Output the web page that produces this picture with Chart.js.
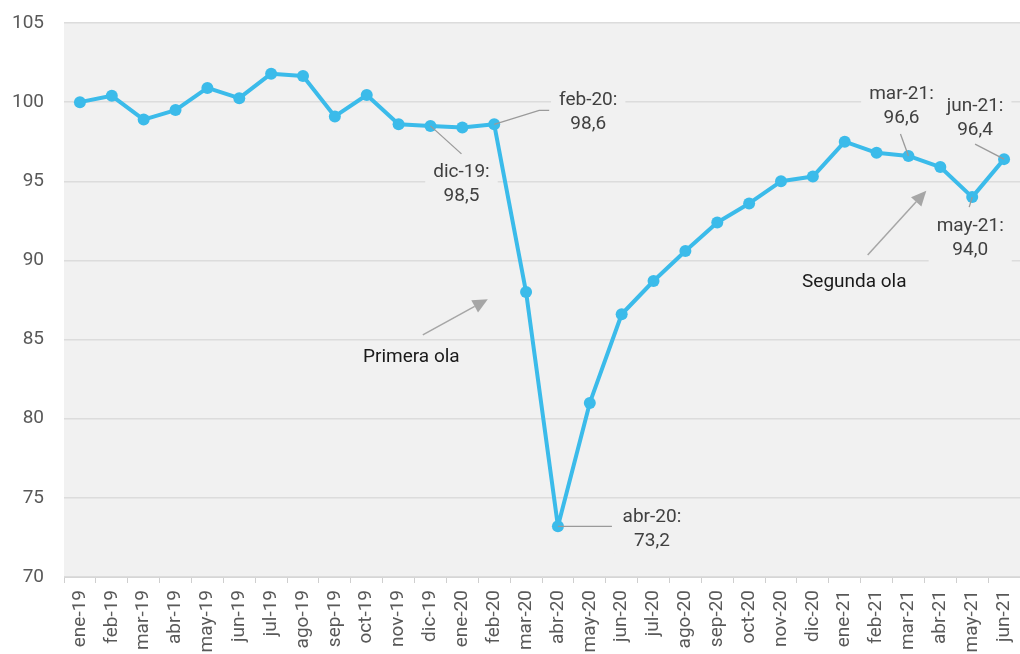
<!DOCTYPE html>
<html>
<head>
<meta charset="utf-8">
<script src="https://cdn.jsdelivr.net/npm/chart.js@4/dist/chart.umd.min.js"></script>
<style>
  body { margin: 0; background: #fff; }
  #wrap { width: 1020px; height: 654px; }
</style>
</head>
<body>
<div id="wrap"><canvas id="chart" width="1020" height="654"></canvas></div>
<script>
// Month labels
const months = ['ene-19','feb-19','mar-19','abr-19','may-19','jun-19','jul-19','ago-19','sep-19','oct-19','nov-19','dic-19',
  'ene-20','feb-20','mar-20','abr-20','may-20','jun-20','jul-20','ago-20','sep-20','oct-20','nov-20','dic-20',
  'ene-21','feb-21','mar-21','abr-21','may-21','jun-21'];

// Index values
const values = [100.0, 100.4, 98.9, 99.5, 100.9, 100.25, 101.8, 101.65, 99.1, 100.45, 98.6, 98.5,
  98.4, 98.6, 88.0, 73.2, 81.0, 86.6, 88.7, 90.6, 92.4, 93.6, 95.0, 95.3,
  97.5, 96.8, 96.6, 95.9, 94.0, 96.4];

const yTicks = [70, 75, 80, 85, 90, 95, 100, 105];

// Point callouts (which month, text lines)
const callouts = [
  { month: 'dic-19', lines: ['dic-19:', '98,5'], leader: [[0, 0], [31, 28]], text: [31, 46] },
  { month: 'feb-20', lines: ['feb-20:', '98,6'], leader: [[0, 0], [45, -14], [55, -14]], text: [94, -24] },
  { month: 'abr-20', lines: ['abr-20:', '73,2'], leader: [[0, 0], [54, 0]], text: [94, -9] },
  { month: 'mar-21', lines: ['mar-21:', '96,6'], leader: [[0, 0], [-8, -22]], text: [-7, -62] },
  { month: 'jun-21', lines: ['jun-21:', '96,4'], leader: [[0, 0], [-29, -15]], text: [-29, -53] },
  { month: 'may-21', lines: ['may-21:', '94,0'], leader: [[0, 0], [-3, 10]], text: [-2, 29] }
];

// Wave notes: arrows in data coordinates (category index, value)
const waves = [
  { text: 'Primera ola', at: [10.4, 83.9], from: [10.76, 85.3], to: [12.8, 87.55] },
  { text: 'Segunda ola', at: [24.3, 88.6], from: [24.72, 90.35], to: [26.56, 94.4] }
];

const FONT = 'Roboto, "Noto Sans", sans-serif';

const plotBg = {
  id: 'plotBg',
  beforeDraw(chart) {
    const a = chart.chartArea, ctx = chart.ctx;
    ctx.save();
    ctx.fillStyle = '#f1f1f1';
    ctx.fillRect(a.left, a.top, a.right - a.left, a.bottom - a.top);
    ctx.restore();
  }
};

function pointPos(chart, month) {
  const i = months.indexOf(month);
  return [chart.scales.x.getPixelForValue(i), chart.scales.y.getPixelForValue(values[i])];
}

const notes = {
  id: 'notes',
  beforeDatasetsDraw(chart) {
    // boxes that hide the gridlines behind the callout text
    const ctx = chart.ctx;
    ctx.save();
    ctx.font = '19px ' + FONT;
    ctx.fillStyle = '#f1f1f1';
    callouts.forEach(c => {
      const [px, py] = pointPos(chart, c.month);
      const cx = px + c.text[0], cy = py + c.text[1];
      const w = Math.max(...c.lines.map(l => ctx.measureText(l).width)) + 16;
      ctx.fillRect(cx - w / 2, cy - 14, w, 50);
    });
    ctx.restore();
  },
  afterDraw(chart) {
    const ctx = chart.ctx;
    ctx.save();
    // leader lines
    ctx.strokeStyle = '#9a9a9a';
    ctx.lineWidth = 1.3;
    callouts.forEach(c => {
      const [px, py] = pointPos(chart, c.month);
      ctx.beginPath();
      c.leader.forEach((p, k) => {
        if (k === 0) ctx.moveTo(px + p[0], py + p[1]);
        else ctx.lineTo(px + p[0], py + p[1]);
      });
      ctx.stroke();
    });
    // callout text
    ctx.font = '19px ' + FONT;
    ctx.fillStyle = '#404040';
    ctx.textAlign = 'center';
    ctx.textBaseline = 'middle';
    callouts.forEach(c => {
      const [px, py] = pointPos(chart, c.month);
      c.lines.forEach((l, k) => ctx.fillText(l, px + c.text[0], py + c.text[1] + k * 24));
    });
    // wave arrows
    const xs = chart.scales.x, ys = chart.scales.y;
    waves.forEach(w => {
      const x1 = xs.getPixelForValue(w.from[0]), y1 = ys.getPixelForValue(w.from[1]);
      const x2 = xs.getPixelForValue(w.to[0]), y2 = ys.getPixelForValue(w.to[1]);
      const ang = Math.atan2(y2 - y1, x2 - x1);
      const hl = 15, hw = 7;
      const bx = x2 - hl * Math.cos(ang), by = y2 - hl * Math.sin(ang);
      ctx.strokeStyle = '#a6a6a6';
      ctx.lineWidth = 1.5;
      ctx.beginPath();
      ctx.moveTo(x1, y1);
      ctx.lineTo(bx, by);
      ctx.stroke();
      ctx.fillStyle = '#a6a6a6';
      ctx.beginPath();
      ctx.moveTo(x2, y2);
      ctx.lineTo(bx + hw * Math.sin(ang), by - hw * Math.cos(ang));
      ctx.lineTo(bx - hw * Math.sin(ang), by + hw * Math.cos(ang));
      ctx.closePath();
      ctx.fill();
      ctx.fillStyle = '#1a1a1a';
      ctx.font = '19px ' + FONT;
      ctx.fillText(w.text, xs.getPixelForValue(w.at[0]), ys.getPixelForValue(w.at[1]));
    });
    ctx.restore();
  }
};

function noPad(s) {
  s.paddingLeft = 0; s.paddingRight = 0; s.paddingTop = 0; s.paddingBottom = 0;
}

new Chart(document.getElementById('chart'), {
  type: 'line',
  data: {
    labels: months,
    datasets: [{
      data: values,
      borderColor: '#3bbbea',
      backgroundColor: '#3bbbea',
      borderWidth: 4,
      borderJoinStyle: 'round',
      borderCapStyle: 'round',
      pointRadius: 6,
      pointHoverRadius: 6,
      pointBorderWidth: 0,
      tension: 0,
      clip: false
    }]
  },
  options: {
    responsive: false,
    animation: false,
    layout: { autoPadding: false, padding: { top: 23, right: 0, left: 0, bottom: 0 } },
    plugins: { legend: { display: false }, tooltip: { enabled: false } },
    scales: {
      x: {
        offset: true,
        grid: { display: true, drawOnChartArea: false, drawTicks: true, tickLength: 6, offset: true, color: '#cfcfcf' },
        border: { display: true, color: '#d6d6d6' },
        ticks: {
          autoSkip: false, minRotation: 90, maxRotation: 90, padding: 7,
          color: '#595959', font: { family: FONT, size: 19 }
        },
        afterFit(s) { s.height = 77; noPad(s); }
      },
      y: {
        min: 70, max: 105,
        afterBuildTicks(s) { s.ticks = yTicks.map(v => ({ value: v })); },
        grid: { color: '#dcdcdc', drawTicks: false, lineWidth: 1.5 },
        border: { display: false },
        ticks: { padding: 20, color: '#595959', font: { family: FONT, size: 19 } },
        afterFit(s) { s.width = 64; noPad(s); }
      }
    }
  },
  plugins: [plotBg, notes]
});
</script>
</body>
</html>
